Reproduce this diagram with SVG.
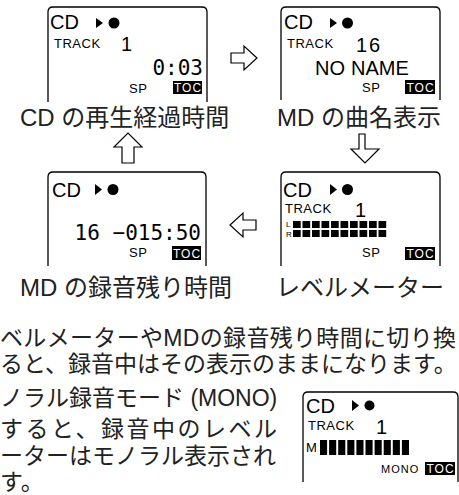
<svg xmlns="http://www.w3.org/2000/svg" width="459" height="495" viewBox="0 0 459 495">
<style>
.box{fill:none;stroke:#000;stroke-width:1.3}
.t{font-family:"Liberation Sans",Arial,sans-serif;fill:#000}
.cd{font-size:20px}
.sm{font-size:13px;letter-spacing:0.5px}
.big{font-size:20px}
.num{font-family:"DejaVu Sans Mono","Liberation Mono",monospace;font-size:21px;fill:#000}
.tocb{fill:#000}
.toct{font-family:"Liberation Sans",Arial,sans-serif;font-size:12px;fill:#fff;text-anchor:middle;letter-spacing:1px}
.lbl{font-family:"Liberation Sans","Noto Sans CJK JP",sans-serif;font-size:24px;fill:#222}
.para{font-family:"Liberation Sans","Noto Sans CJK JP",sans-serif;font-size:23px;fill:#222}
.arr{fill:#fff;stroke:#000;stroke-width:1.2;stroke-linejoin:miter}
.bar{stroke:#000;fill:none}
.lr{font-family:"Liberation Sans",Arial,sans-serif;font-size:8px;fill:#000}
</style>

<g id="node-cd-elapsed">
  <path class="box" d="M48,102 V12 Q48,7 53,7 H202 Q207,7 207,12 V102"/>
  <text class="t cd" x="50" y="29">CD</text>
  <polygon points="96,18 103,23 96,28"/>
  <circle cx="114" cy="23" r="5.5"/>
  <text class="t sm" x="54" y="48">TRACK</text>
  <text class="t big" x="121" y="51">1</text>
  <text class="num" x="203" y="75" text-anchor="end">0:03</text>
  <text class="t sm" x="129" y="93">SP</text>
  <rect class="tocb" x="173" y="81" width="29" height="13"/>
  <text class="toct" x="188" y="92">TOC</text>
  <text class="lbl" x="20" y="126">CD の再生経過時間</text>
</g>

<g id="node-md-title">
  <path class="box" d="M281,100 V12 Q281,7 286,7 H435 Q440,7 440,12 V100"/>
  <text class="t cd" x="284" y="29">CD</text>
  <polygon points="330,18 337,23 330,28"/>
  <circle cx="347.5" cy="23" r="5.5"/>
  <text class="t sm" x="287" y="48">TRACK</text>
  <text class="t big" x="356" y="52" letter-spacing="2">16</text>
  <text class="t big" x="315" y="75">NO</text>
  <text class="t big" x="351" y="75">NAME</text>
  <text class="t sm" x="362" y="92">SP</text>
  <rect class="tocb" x="405" y="80" width="30" height="14"/>
  <text class="toct" x="420.5" y="91.5">TOC</text>
  <text class="lbl" x="277" y="126">MD の曲名表示</text>
</g>

<g id="node-md-remaining">
  <path class="box" d="M48,266 V177 Q48,172 53,172 H201 Q206,172 206,177 V266"/>
  <text class="t cd" x="52" y="197">CD</text>
  <polygon points="95,184 102,189.5 95,195"/>
  <circle cx="113" cy="189.5" r="5.5"/>
  <text class="num" x="201" y="240" text-anchor="end">16 −015:50</text>
  <text class="t sm" x="129" y="257">SP</text>
  <rect class="tocb" x="172" y="246" width="29" height="14"/>
  <text class="toct" x="187" y="257.5">TOC</text>
  <text class="lbl" x="20" y="296">MD の録音残り時間</text>
</g>

<g id="node-level-meter">
  <path class="box" d="M281,266 V177 Q281,172 286,172 H435 Q440,172 440,177 V266"/>
  <text class="t cd" x="283" y="197">CD</text>
  <polygon points="330,184 337,189.5 330,195"/>
  <circle cx="347.5" cy="189.5" r="5.5"/>
  <text class="t sm" x="285" y="213">TRACK</text>
  <text class="t big" x="355" y="217">1</text>
  <text class="lr" x="286" y="227">L</text>
  <text class="lr" x="286" y="236.5">R</text>
  <line class="bar" x1="293" y1="224.5" x2="386.2" y2="224.5" stroke-width="7" stroke-dasharray="7.7 1.8"/>
  <line class="bar" x1="293" y1="233.5" x2="386.2" y2="233.5" stroke-width="7" stroke-dasharray="7.7 1.8"/>
  <text class="t sm" x="362" y="257">SP</text>
  <rect class="tocb" x="405" y="247" width="30" height="13"/>
  <text class="toct" x="420.5" y="258">TOC</text>
  <text class="lbl" x="276" y="296">レベルメーター</text>
</g>

<g id="connectors">
  <path class="arr" d="M231,53 H244 V46 L257,58 L244,70 V63 H231 Z"/>
  <path class="arr" d="M365,163 V148 H351 L365,134 L379,148 H371 V163 Z" transform="rotate(180 365 148.5)"/>
  <path class="arr" d="M256,220 H243 V213 L230,225 L243,237 V230 H256 Z"/>
  <path class="arr" d="M122,163 V147 H114 L128,133 L142,147 H134 V163 Z"/>
</g>

<g id="text-note">
  <text class="para" x="0" y="346" textLength="456" lengthAdjust="spacing">ベルメーターやMDの録音残り時間に切り換</text>
  <text class="para" x="0" y="372">ると、録音中はその表示のままになります。</text>
  <text class="para" x="0" y="406">ノラル録音モード (MONO)</text>
  <text class="para" x="0" y="437" textLength="277" lengthAdjust="spacing">すると、録音中のレベル</text>
  <text class="para" x="0" y="464">ーターはモノラル表示され</text>
  <text class="para" x="0" y="490">す。</text>
</g>

<g id="node-mono">
  <path class="box" d="M303,482 V397 Q303,392 308,392 H453 Q458,392 458,397 V482"/>
  <text class="t cd" x="306" y="413">CD</text>
  <polygon points="352,400 359,405.5 352,411"/>
  <circle cx="369.5" cy="405.5" r="5"/>
  <text class="t sm" x="308" y="430">TRACK</text>
  <text class="t big" x="376" y="434">1</text>
  <text class="t sm" x="306" y="452">M</text>
  <line class="bar" x1="320" y1="447.5" x2="409" y2="447.5" stroke-width="15" stroke-dasharray="7.1 2.0"/>
  <text class="t" x="381" y="473" font-size="11" letter-spacing="1">MONO</text>
  <rect class="tocb" x="425" y="462" width="30" height="13"/>
  <text class="toct" x="440.5" y="473">TOC</text>
</g>
</svg>
